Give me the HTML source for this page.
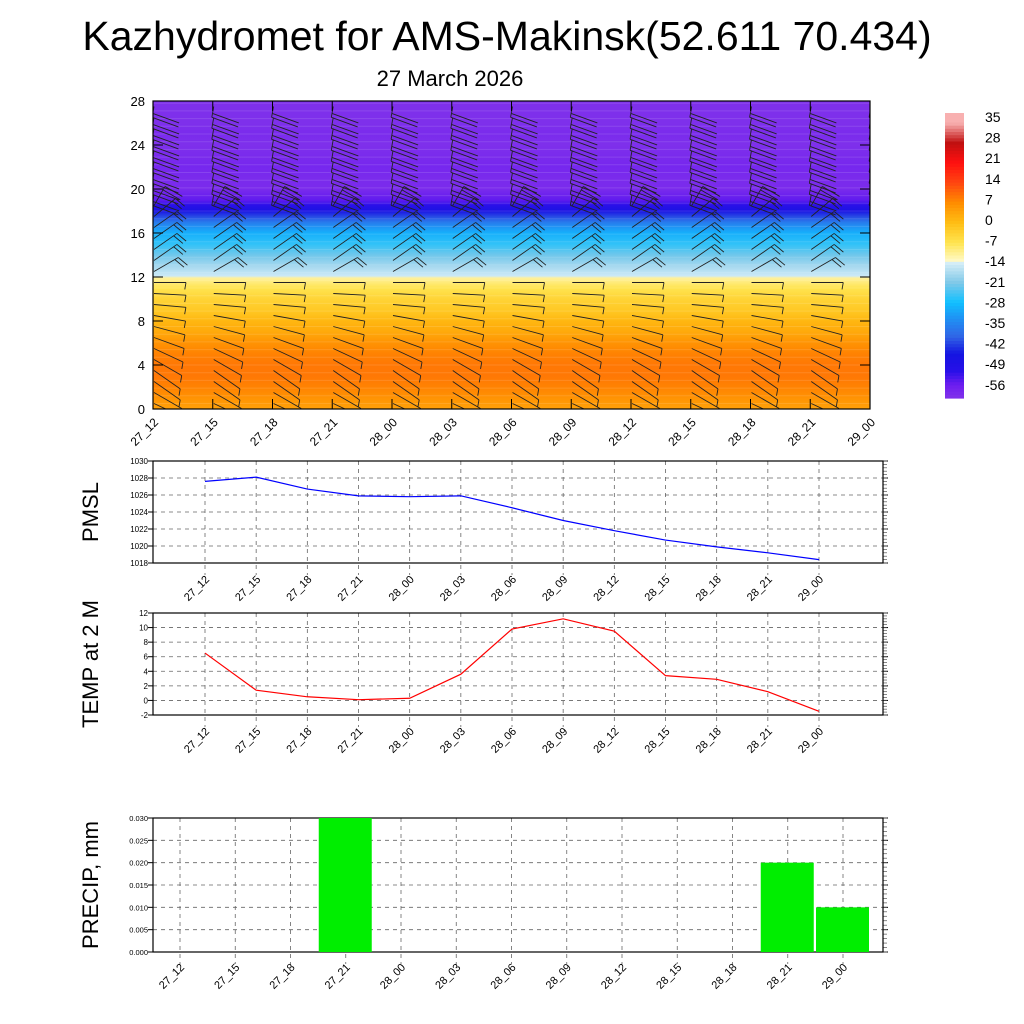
<!DOCTYPE html>
<html><head><meta charset="utf-8">
<style>
html,body{margin:0;padding:0;background:#fff;}
svg{display:block;font-family:"Liberation Sans",Arial,sans-serif;}
</style></head>
<body>
<svg id="chart" width="1024" height="1024" viewBox="0 0 1024 1024" xmlns="http://www.w3.org/2000/svg">
<defs><clipPath id="topclip"><rect x="153" y="101" width="717" height="308"/></clipPath></defs>
<text x="507" y="50" font-size="41" text-anchor="middle">Kazhydromet for AMS-Makinsk(52.611 70.434)</text>
<text x="450" y="86" font-size="22" text-anchor="middle">27 March 2026</text>
<g id="topPanel"></g>
<g id="cbar"></g>
<g id="pmsl"></g>
<g id="temp"></g>
<g id="precip"></g>
</svg>
<script>
const timeLabels = ["27_12","27_15","27_18","27_21","28_00","28_03","28_06","28_09","28_12","28_15","28_18","28_21","29_00"];
const pmslValues = [1027.6,1028.1,1026.7,1025.9,1025.8,1025.9,1024.5,1023.0,1021.8,1020.7,1019.9,1019.2,1018.4];
const tempValues = [6.5,1.4,0.5,0.1,0.3,3.6,9.8,11.2,9.5,3.4,2.9,1.2,-1.5];
const precipValues = [0,0,0,0.03,0,0,0,0,0,0,0,0.02,0.01];
const profileHeights = [0,1,2,3,4,5,6,7,8,9,10,11,11.9,12.1,13,14,15,16,16.5,17,17.5,18,18.5,19,20,21,22,23,24,25,26,27,28];
const profileTemps = [4,6,8,9,9,8,6,3,1,-2,-4,-7,-11,-15,-18,-22,-26,-30,-33,-37,-42,-48,-52,-56,-60,-60,-59,-60,-61,-60,-61,-61,-61];
const cbarLabels = [35,28,21,14,7,0,-7,-14,-21,-28,-35,-42,-49,-56];
const barbAngles = [25,30,35,35,30,25,20,15,10,5,3,0,-30,-35,-35,-35,-35,-40,-60,100,100,100,100,100,100,100,100,100];
const barbLengths = [32,32,32,32,32,32,32,32,32,32,32,32,28,28,28,28,28,28,22,11,11,11,11,11,11,11,11,11];
const barbFeathers = [1,1,1,1,1,1,1,1,1,1,1,1,2,2,2,2,2,2,2,2,2,2,2,2,2,2,2,2];
const featherAngles = [100,100,100,100,100,100,100,100,100,100,100,100,40,40,40,40,40,40,30,20,20,20,20,20,20,20,20,20];
const featherLengths = [7,7,7,7,7,7,7,7,7,7,7,7,12,12,12,12,12,12,20,28,28,28,28,28,28,28,28,28];

const NS="http://www.w3.org/2000/svg";
function mk(parent,tag,attrs){const e=document.createElementNS(NS,tag);for(const k in attrs)e.setAttribute(k,attrs[k]);parent.appendChild(e);return e;}
const cmapStops=[[-62,[130,52,234]],[-57,[110,30,240]],[-52,[40,16,232]],[-46,[20,20,225]],[-40,[48,100,230]],[-33,[30,150,245]],[-28,[16,192,255]],[-21,[128,200,232]],[-14,[215,238,248]],[-13.9,[255,251,208]],[-7,[255,228,80]],[0,[255,190,20]],[7,[255,140,0]],[14,[255,70,16]],[21,[255,16,16]],[28,[192,16,16]],[35,[248,176,176]]];
function cmap(v){
  if(v<=cmapStops[0][0])return "rgb("+cmapStops[0][1].join(",")+")";
  for(let i=1;i<cmapStops.length;i++){if(v<=cmapStops[i][0]){const a=cmapStops[i-1],b=cmapStops[i];const t=(v-a[0])/(b[0]-a[0]);return "rgb("+a[1].map((c,j)=>Math.round(c+(b[1][j]-c)*t)).join(",")+")";}}
  return "rgb("+cmapStops[cmapStops.length-1][1].join(",")+")";
}

// ---------- TOP PANEL ----------
const topG=document.getElementById('topPanel');
const T={x0:153,x1:870,y0:101,y1:409};
const tx=i=>T.x0+(T.x1-T.x0)*i/12;
const ty=h=>T.y1-(T.y1-T.y0)*h/28;
const defs=mk(document.getElementById('chart'),'defs',{});
const grad=mk(defs,'linearGradient',{id:'tgrad',x1:0,y1:1,x2:0,y2:0});
profileHeights.forEach((h,i)=>{mk(grad,'stop',{offset:(h/28).toFixed(4),'stop-color':cmap(profileTemps[i])});});
let r=mk(topG,'rect',{x:T.x0,y:T.y0,width:T.x1-T.x0,height:T.y1-T.y0,fill:'url(#tgrad)'});


for(let h=0.5;h<28;h+=0.7){mk(topG,'line',{x1:T.x0,x2:T.x1,y1:ty(h),y2:ty(h),stroke:'#fff','stroke-opacity':0.12,'stroke-width':1});}
const barbLayer=mk(topG,'g',{'clip-path':'url(#topclip)',stroke:'#222','stroke-width':0.9,fill:'none'});
for(let c=0;c<13;c++){
  for(let k=0;k<barbAngles.length;k++){
    const bx0=tx(c)+1, by=ty(k+0.5);
    const a=barbAngles[k]*Math.PI/180, L=barbLengths[k];
    const ex=bx0+L*Math.cos(a), ey=by+L*Math.sin(a);
    const g=mk(barbLayer,'g',{});
    
    
    mk(g,'line',{x1:bx0,y1:by,x2:ex,y2:ey});
    const fa=featherAngles[k]*Math.PI/180, fl=featherLengths[k];
    for(let f=0;f<barbFeathers[k];f++){
      const px=ex-(f*4)*Math.cos(a), py=ey-(f*4)*Math.sin(a);
      mk(g,'line',{x1:px,y1:py,x2:px+fl*Math.cos(fa),y2:py+fl*Math.sin(fa)});
    }
  }
}
mk(topG,'rect',{x:T.x0,y:T.y0,width:T.x1-T.x0,height:T.y1-T.y0,fill:'none',stroke:'#000','stroke-width':1.2});
for(let v=0;v<=28;v+=4){
  const t=mk(topG,'text',{x:T.x0-8,y:ty(v)+5,'font-size':13,'text-anchor':'end'});t.textContent=v;
  
  
  mk(topG,'line',{x1:T.x0,x2:T.x0+10,y1:ty(v),y2:ty(v),stroke:'#000'});
  mk(topG,'line',{x1:T.x1,x2:T.x1-10,y1:ty(v),y2:ty(v),stroke:'#000'});
}
timeLabels.forEach((lab,i)=>{
  const x=tx(i);
  mk(topG,'line',{x1:x,x2:x,y1:T.y1,y2:T.y1-10,stroke:'#000'});
  mk(topG,'line',{x1:x,x2:x,y1:T.y0,y2:T.y0+10,stroke:'#000'});
  const t=mk(topG,'text',{x:x+6,y:T.y1+14,'font-size':12,'text-anchor':'end',transform:`rotate(-45 ${x+6} ${T.y1+14})`});t.textContent=lab;
  
  
});

// ---------- COLORBAR ----------
const cb=document.getElementById('cbar');
const CB={x:945,w:19,y0:113,y1:398};
for(let s=0;s<90;s++){
  const v=38-(s/90)*(38+62);
  mk(cb,'rect',{x:CB.x,y:CB.y0+(CB.y1-CB.y0)*s/90,width:CB.w,height:(CB.y1-CB.y0)/90+0.6,fill:cmap(v)});
}
cbarLabels.forEach((v,i)=>{
  const t=mk(cb,'text',{x:CB.x+40,y:117+20.6*i+5,'font-size':14,'text-anchor':'start'});t.textContent=v;
  
  
});

// ---------- LINE PANELS ----------
function panel(gid,box,vmin,vmax,step,decimals,fontY,ylabel,xpos,lblY){
  const g=document.getElementById(gid);
  const sy=v=>box.y1-(box.y1-box.y0)*(v-vmin)/(vmax-vmin);
  const n=Math.round((vmax-vmin)/step);
  for(let k=0;k<=n;k++){
    const v=vmin+k*step;
    const y=sy(v);
    mk(g,'line',{x1:box.x0,x2:box.x1,y1:y,y2:y,stroke:'#666','stroke-dasharray':'4,4','stroke-width':0.8});
    const t=mk(g,'text',{x:box.x0-5,y:y+3,'font-size':fontY,'text-anchor':'end'});t.textContent=v.toFixed(decimals);
    
    
    mk(g,'line',{x1:box.x0-5,x2:box.x0,y1:y,y2:y,stroke:'#000'});
    mk(g,'line',{x1:box.x1,x2:box.x1+5,y1:y,y2:y,stroke:'#000'});
  }
  for(let k=0;k<=n*5;k++){const y=box.y1-(box.y1-box.y0)*k/(n*5);mk(g,'line',{x1:box.x1,x2:box.x1+4,y1:y,y2:y,stroke:'#555','stroke-width':0.7});}
  xpos.forEach((x,i)=>{
    mk(g,'line',{x1:x,x2:x,y1:box.y0,y2:box.y1+12,stroke:'#666','stroke-dasharray':'4,4','stroke-width':0.8});
    const t=mk(g,'text',{x:x+5,y:lblY,'font-size':11,'text-anchor':'end',transform:`rotate(-45 ${x+5} ${lblY})`});t.textContent=timeLabels[i];
    
    
  });
  mk(g,'rect',{x:box.x0,y:box.y0,width:box.x1-box.x0,height:box.y1-box.y0,fill:'none',stroke:'#000','stroke-width':1.2});
  const cy=(box.y0+box.y1)/2;
  const yl=mk(g,'text',{x:98,y:cy,'font-size':22,'text-anchor':'middle',transform:`rotate(-90 98 ${cy})`});yl.textContent=ylabel;
  
  
  return {g,sy};
}
const lx=i=>205+(819-205)*i/12;
const xsLine=timeLabels.map((_,i)=>lx(i));
const P=panel('pmsl',{x0:153,x1:883,y0:461,y1:563},1018,1030,2,0,8,'PMSL',xsLine,580);
let pl=mk(P.g,'polyline',{points:pmslValues.map((v,i)=>lx(i)+','+P.sy(v)).join(' '),fill:'none',stroke:'#0000ff','stroke-width':1.2});


const TP=panel('temp',{x0:153,x1:883,y0:613,y1:715},-2,12,2,0,8,'TEMP at 2 M',xsLine,732);
let tl=mk(TP.g,'polyline',{points:tempValues.map((v,i)=>lx(i)+','+TP.sy(v)).join(' '),fill:'none',stroke:'#ff0000','stroke-width':1.2});



const bx=i=>180+(843-180)*i/12;
const xsBar=timeLabels.map((_,i)=>bx(i));
const PR=panel('precip',{x0:153,x1:883,y0:818,y1:952},0,0.03,0.005,3,7.5,'PRECIP, mm',xsBar,968);
precipValues.forEach((v,i)=>{
  if(v<=0)return;
  const b=mk(PR.g,'rect',{x:bx(i)-27,y:PR.sy(v),width:53,height:952-PR.sy(v),fill:'#00ee00'});
  
  
});
</script>
</body></html>
